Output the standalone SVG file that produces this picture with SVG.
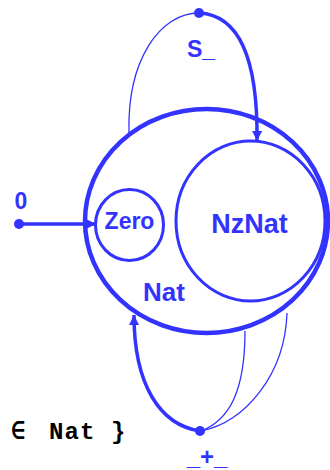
<svg xmlns="http://www.w3.org/2000/svg" width="330" height="470" viewBox="0 0 330 470">
<style>
.lbl{font-family:"Liberation Sans",Arial,sans-serif;font-weight:bold;fill:#3333ff;text-anchor:middle}
.set{fill:none;stroke:#3333ff}
.thin{fill:none;stroke:#3333ff;stroke-width:1.3}
.thick{fill:none;stroke:#3333ff;stroke-width:3.5}
.dot{fill:#3333ff}
.mono{font-family:"Liberation Mono","DejaVu Sans Mono",monospace;font-weight:bold;fill:#000;font-size:24px}
</style>
<defs>
<marker id="ah" viewBox="0 0 10 10" refX="10" refY="5" markerWidth="10" markerHeight="10" markerUnits="userSpaceOnUse" orient="auto">
<path d="M0,0 L10,5 L0,10 z" fill="#3333ff"/>
</marker>
</defs>
<g id="Nat">
<ellipse class="set" cx="206.5" cy="221" rx="121.5" ry="112" stroke-width="4.5"/>
<text class="lbl" x="164" y="301" font-size="26">Nat</text>
</g>
<g id="NzNat">
<ellipse class="set" cx="250.5" cy="221" rx="74.5" ry="80" stroke-width="3"/>
<text class="lbl" x="249.5" y="233" font-size="27">NzNat</text>
</g>
<g id="Zero">
<ellipse class="set" cx="129.5" cy="225" rx="34" ry="35.5" stroke-width="3"/>
<text class="lbl" x="129.5" y="229" font-size="23">Zero</text>
</g>
<g id="connectors">
<g id="op-0">
<circle class="dot" cx="19" cy="224" r="5"/>
<line class="thick" x1="19" y1="224" x2="96" y2="224" stroke-width="3" marker-end="url(#ah)"/>
<text class="lbl" x="21" y="209" font-size="23">0</text>
</g>
<g id="op-S">
<path class="thin" d="M129,133 C127,60 160,13 199,13"/>
<path class="thick" d="M199,13 C240,15 258,60 257,141" marker-end="url(#ah)"/>
<circle class="dot" cx="199" cy="13" r="5"/>
<text class="lbl" x="201" y="57" font-size="23">S_</text>
</g>
<g id="op-plus">
<path class="thin" d="M201,431 C230,420 245,390 245,331"/>
<path class="thin" d="M201,431 C245,422 285,375 287,313"/>
<path class="thick" d="M200,431 C160,425 134,385 134,315" marker-end="url(#ah)"/>
<circle class="dot" cx="200" cy="431" r="5"/>
<text class="lbl" x="207" y="465" font-size="24">_+_</text>
</g>
</g>
<text class="mono" x="11 34 49 64.5 80 96.5 111" y="439">∈ Nat }</text>
</svg>
